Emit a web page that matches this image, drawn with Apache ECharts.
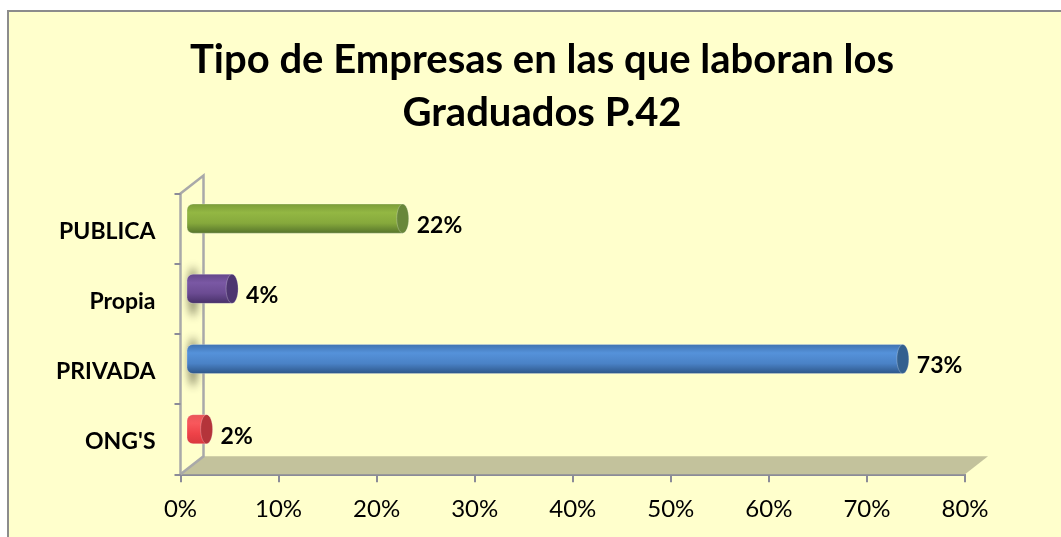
<!DOCTYPE html>
<html>
<head>
<meta charset="utf-8">
<title>Tipo de Empresas</title>
<style>
  html, body { margin: 0; padding: 0; background: #fff; }
  #chart { width: 1061px; height: 537px; }
</style>
<script src="https://cdn.jsdelivr.net/npm/echarts@6/dist/echarts.min.js"></script>
</head>
<body>
<div id="chart"></div>
<script>
  const titulo = 'Tipo de Empresas en las que laboran los\nGraduados P.42';
  const categorias = ["ONG'S", 'PRIVADA', 'Propia', 'PUBLICA'];
  // bar lengths (Propia is labelled 4% but is drawn a bit longer)
  const valores = [2, 73, 4.6, 22];
  const etiquetas = ['2%', '73%', '4%', '22%'];
  const ticksX = [0, 10, 20, 30, 40, 50, 60, 70, 80];

  // colours per bar: [edge, body, highlight, bottom, cap]
  const colores = [
    ['#e8565a', '#ee4248', '#f8585c', '#d8383e', '#b4343a'],
    ['#3f71ae', '#4a82c6', '#5592da', '#2c5486', '#33608f'],
    ['#634689', '#6b4b92', '#7a58a4', '#452f66', '#4d3570'],
    ['#7a9c38', '#86a93c', '#93b743', '#54722a', '#68873a']
  ];
  const conSombra = ['PRIVADA', 'Propia'];

  const fondoX = 23, fondoY = 18;   // depth of the fake 3d box
  const barraX = 6.5, barraY = 10;  // bars sit in the middle of that depth

  const myChart = echarts.init(document.getElementById('chart'));

  function renderCaja(params) {
    const c = params.coordSys;
    const gris = { stroke: '#a9a9a9', lineWidth: 2.5, fill: null };
    return {
      type: 'group',
      children: [
        { type: 'polygon', shape: { points: [[c.x, c.y + c.height], [c.x + fondoX, c.y + c.height - fondoY], [c.x + c.width + fondoX, c.y + c.height - fondoY], [c.x + c.width, c.y + c.height]] }, style: { fill: '#c3c29c' } },
        { type: 'polyline', shape: { points: [[c.x, c.y], [c.x + fondoX, c.y - fondoY], [c.x + fondoX, c.y + c.height - fondoY], [c.x, c.y + c.height]] }, style: gris }
      ]
    };
  }

  function renderBarra(params, api) {
    const i = params.dataIndex;
    const base = api.coord([0, api.value(1)]);
    const fin = api.coord([api.value(0), api.value(1)]);
    const alto = api.size([0, 1])[1] * 0.415;
    const x0 = base[0] + barraX, x1 = fin[0] + barraX;
    const cy = base[1] - barraY;
    const col = colores[i];
    const grad = new echarts.graphic.LinearGradient(0, 0, 0, 1, [
      { offset: 0, color: col[0] },
      { offset: 0.3, color: col[2] },
      { offset: 0.65, color: col[1] },
      { offset: 1, color: col[3] }
    ]);
    const hijos = [];
    if (conSombra.indexOf(categorias[i]) >= 0) {
      // only the blurred shadow shows, the ellipse itself is off the canvas
      hijos.push({
        type: 'ellipse',
        shape: { cx: x0 + 6 - 3000, cy: cy + 3, rx: 4, ry: alto * 0.85 },
        style: { fill: '#000', shadowBlur: 8, shadowOffsetX: 3000, shadowColor: 'rgba(100,100,70,0.9)' }
      });
    }
    hijos.push(
      { type: 'rect', shape: { x: x0, y: cy - alto / 2, width: x1 - x0, height: alto, r: [6, 0, 0, 6] }, style: { fill: grad, stroke: 'rgba(255,255,255,0.25)', lineWidth: 1 } },
      { type: 'ellipse', shape: { cx: x1, cy: cy, rx: 6, ry: alto / 2 }, style: { fill: col[4], stroke: 'rgba(255,255,255,0.25)', lineWidth: 1 } },
      { type: 'text', style: { x: x1 + 14, y: base[1] - 3, text: etiquetas[i], fill: '#000', font: 'bold 23px Lato', verticalAlign: 'middle', align: 'left' } }
    );
    return { type: 'group', children: hijos };
  }

  const option = {
    animation: false,
    backgroundColor: '#fff',
    graphic: [{
      type: 'rect',
      z: -10,
      shape: { x: 8, y: 11, width: 1060, height: 540 },
      style: { fill: '#ffffcc', stroke: '#8c8c8c', lineWidth: 2 }
    }],
    title: {
      text: titulo,
      left: 537,
      top: 29,
      textAlign: 'center',
      textStyle: { fontFamily: 'Lato', fontWeight: 'bold', fontSize: 40, lineHeight: 53, color: '#000' }
    },
    grid: { left: 180.5, right: 96, top: 193.5, bottom: 62.7 },
    xAxis: {
      type: 'value',
      min: ticksX[0],
      max: ticksX[ticksX.length - 1],
      interval: 10,
      splitLine: { show: false },
      axisLine: { show: true, lineStyle: { color: '#8b8b98', width: 2 } },
      axisTick: { show: true, length: 8, lineStyle: { color: '#8b8b98', width: 2 } },
      axisLabel: { formatter: '{value}%', margin: 23, color: '#000', fontFamily: 'Lato', fontSize: 24 }
    },
    yAxis: {
      type: 'category',
      data: categorias,
      axisLine: { show: true, lineStyle: { color: '#a9a9a9', width: 2.5 } },
      axisTick: { show: true, length: 6, lineStyle: { color: '#8b8b98', width: 2 } },
      axisLabel: { margin: 25, verticalAlign: 'top', padding: [-9, 0, 0, 0], color: '#000', fontFamily: 'Lato', fontWeight: 'bold', fontSize: 23 }
    },
    series: [
      {
        type: 'custom',
        z: 1,
        silent: true,
        clip: false,
        renderItem: renderCaja,
        data: [0]
      },
      {
        type: 'custom',
        z: 5,
        silent: true,
        clip: false,
        renderItem: renderBarra,
        encode: { x: 0, y: 1 },
        data: valores.map(function (v, i) { return [v, i]; })
      }
    ]
  };
  myChart.setOption(option);
</script>
</body>
</html>
